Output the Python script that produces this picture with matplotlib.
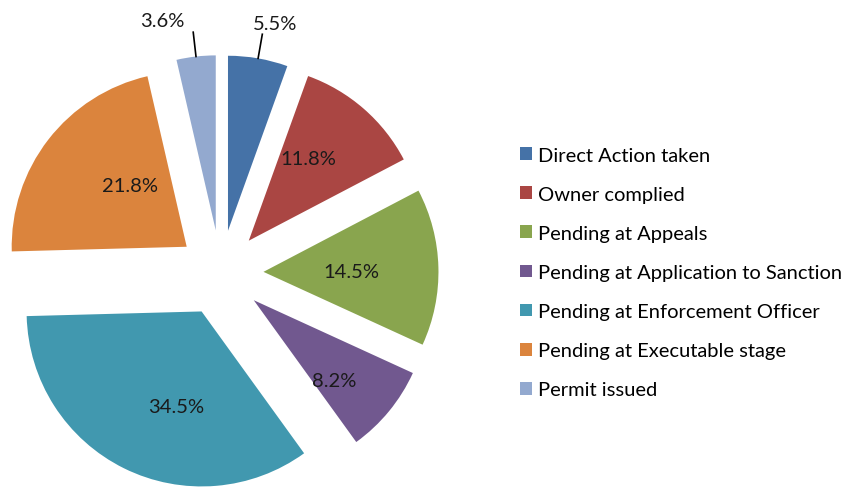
import numpy as np
import matplotlib
matplotlib.use('Agg')
from matplotlib import pyplot as plt
from matplotlib.patches import Patch

categories = ['Direct Action taken', 'Owner complied', 'Pending at Appeals',
              'Pending at Application to Sanction', 'Pending at Enforcement Officer',
              'Pending at Executable stage', 'Permit issued']
shares = [5.5, 11.8, 14.5, 8.2, 34.5, 21.8, 3.6]
colors = ['#4572A7', '#AA4643', '#89A54E', '#71588F', '#4198AF', '#DB843D', '#93A9CF']

plt.rcParams['font.family'] = ['Lato', 'DejaVu Sans']

W, H = 855, 489
R = 175.0  # pie radius in px
FS = 14.5
fig = plt.figure(figsize=(W / 100, H / 100), dpi=100)
ax = fig.add_axes([0, 0, 1, 1])

wedges, _ = ax.pie(shares, colors=colors, explode=[0.245] * len(shares),
                   startangle=90, counterclock=False, radius=1,
                   wedgeprops=dict(linewidth=0))

# pixel-based limits: 1 data unit = R px
cx, cy = 220.6 / R, (H - 274) / R
ax.set_aspect('auto')
ax.set_xlim(-cx, W / R - cx)
ax.set_ylim(-cy, H / R - cy)
ax.axis('off')

# inside label placement relative to slice tip: (distance in radii, angle deg)
# None -> outside label with leader line
label_pos = [None, (0.58, 54), (0.50, 0), (0.65, -45), (0.56, -105), (0.475, 133), None]

for w, val, lp in zip(wedges, shares, label_pos):
    th = np.deg2rad((w.theta1 + w.theta2) / 2)
    x0, y0 = w.center
    txt = '%.1f%%' % val
    if lp is not None:
        d, a = lp[0], np.deg2rad(lp[1])
        ax.text(x0 + d * np.cos(a), y0 + d * np.sin(a), txt,
                ha='center', va='center', fontsize=FS, color='#1a1a1a')
    else:
        p1 = (x0 + np.cos(th), y0 + np.sin(th))
        p2 = (x0 + 1.14 * np.cos(th), y0 + 1.14 * np.sin(th))
        ax.plot([p1[0], p2[0]], [p1[1], p2[1]], color='black', lw=1.2)
        if np.cos(th) >= 0:
            ax.text(p2[0] - 0.055, p2[1] + 0.015, txt, ha='left', va='bottom',
                    fontsize=FS, color='#1a1a1a')
        else:
            ax.text(p2[0] - 0.05, p2[1] + 0.02, txt, ha='right', va='bottom',
                    fontsize=FS, color='#1a1a1a')

handles = [Patch(facecolor=c, edgecolor='none') for c in colors]
fig.legend(handles, categories, loc='center left',
           bbox_to_anchor=(520 / W, 1 - 273.5 / H), frameon=False,
           fontsize=FS, handlelength=0.6, handleheight=0.6,
           handletextpad=0.3, labelspacing=1.1, borderpad=0, borderaxespad=0)

fig.savefig('out.png', dpi=100)
